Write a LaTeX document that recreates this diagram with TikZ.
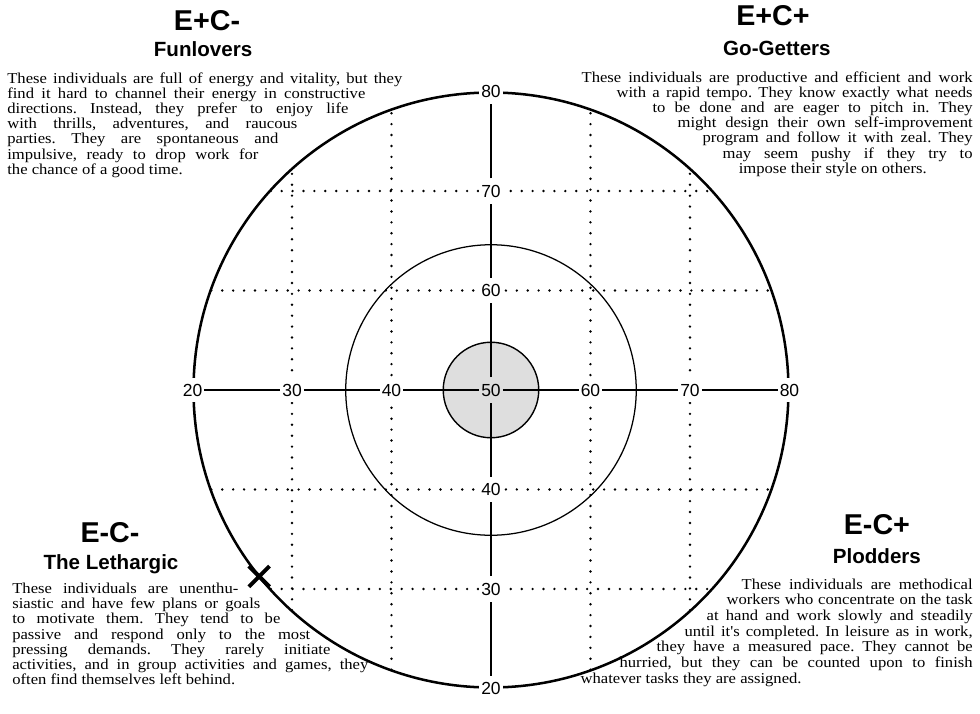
\documentclass[tikz,border=0pt]{standalone}
\usepackage{fontspec}
\setmainfont{Liberation Serif}
\setsansfont{Liberation Sans}
\newfontfamily\bodyfont[FakeStretch=1.1]{Liberation Serif}
\usetikzlibrary{shapes.misc}
\definecolor{Stipple}{gray}{0.87}
\newlength\pxw
\setlength\pxw{0.025126cm}
\newcommand\jline[2]{\makebox[#1\pxw][s]{#2}}
\frenchspacing

\begin{document}
\begin{tikzpicture}[x=2.5cm,y=2.5cm,
  rim/.style={line width=1.8pt},ring/.style={line width=0.9pt},
  dots/.style={line width=1.9pt,dash pattern=on 0pt off 7.8pt,line cap=round},
  axis/.style={line width=1.4pt},
  num/.style={fill=white,inner xsep=1.3pt,inner ysep=4.5pt,font=\sffamily\fontsize{12.5}{13}\selectfont},
  code/.style={anchor=base,font=\sffamily\bfseries\fontsize{20.5}{24}\selectfont},
  kind/.style={anchor=base,font=\sffamily\bfseries\fontsize{14.7}{17}\selectfont},
  body/.style={inner sep=0pt,font=\bodyfont\fontsize{10.8}{10.8}\selectfont}]
\useasboundingbox (-4.935,-3.256) rectangle (4.915,3.92);
% target rings
\fill[Stipple] (0,0) circle (0.48);
\draw[line width=1pt] (0,0) circle (0.48);
\draw[ring] (0,0) circle (1.46);
\draw[rim] (0,0) circle (2.99);
% dotted grid
\foreach \k in {-2,-1,1,2}{
  \draw[dots] (\k,{-sqrt(8.9-\k*\k)}) -- (\k,{sqrt(8.9-\k*\k)});
  \draw[dots] ({-sqrt(8.9-\k*\k)},\k) -- ({sqrt(8.9-\k*\k)},\k);}
% scale values
\node[num,fill=Stipple] (c) at (0,0) {50};
\foreach \v in {20,30,40,60,70,80}{
  \node[num] (h\v) at ({(\v-50)/10},0) {\v};
  \node[num] (v\v) at (0,{(\v-50)/10}) {\v};}
\foreach \p/\q in {h20/h30,h30/h40,h40/c,c/h60,h60/h70,h70/h80,v20/v30,v30/v40,v40/c,c/v60,v60/v70,v70/v80}
  \draw[axis] (\p)--(\q);
\node[cross out,draw,line width=2.8pt,minimum size=12pt,inner sep=0pt] (cross) at (218.8:2.99) {};
% E+C-
\node[code] (tlc) at (-2.854,3.618) {E+C-};
\node[kind] (tlk) at (-2.894,3.347) {Funlovers};
\node[body,anchor=north west,align=left] (tlb) at (-4.864,3.19) {%
  \jline{395}{These individuals are full of energy and vitality, but they}\\
  \jline{358}{find it hard to channel their energy in constructive}\\
  \jline{341}{directions. Instead, they prefer to enjoy life}\\
  \jline{290}{with thrills, adventures, and raucous}\\
  \jline{271}{parties. They are spontaneous and}\\
  \jline{251}{impulsive, ready to drop work for}\\
  the chance of a good time.};
% E+C+
\node[code] (trc) at (2.834,3.668) {E+C+};
\node[kind] (trk) at (2.874,3.367) {Go-Getters};
\node[body,anchor=north east,align=right] (trb) at (4.844,3.20) {%
  \jline{391}{These individuals are productive and efficient and work}\\
  \jline{356}{with a rapid tempo. They know exactly what needs}\\
  \jline{320}{to be done and are eager to pitch in. They}\\
  \jline{295}{might design their own self-improvement}\\
  \jline{270}{program and follow it with zeal. They}\\
  \jline{250}{may seem pushy if they try to}\\
  impose their style on others.\hspace*{46\pxw}};
% E-C-
\node[code] (blc) at (-3.829,-1.528) {E-C-};
\node[kind] (blk) at (-3.819,-1.809) {The Lethargic};
\node[body,anchor=north west,align=left] (blb) at (-4.814,-1.94) {%
  \jline{226}{These individuals are unenthu-}\\
  \jline{248}{siastic and have few plans or goals}\\
  \jline{268}{to motivate them. They tend to be}\\
  \jline{298}{passive and respond only to the most}\\
  \jline{318}{pressing demands. They rarely initiate}\\
  \jline{356}{activities, and in group activities and games, they}\\
  often find themselves left behind.};
% E-C+
\node[code] (brc) at (3.879,-1.457) {E-C+};
\node[kind] (brk) at (3.879,-1.739) {Plodders};
\node[body,anchor=north east,align=right,font=\bodyfont\fontsize{10.8}{11.2}\selectfont] (brb) at (4.844,-1.894) {%
  \jline{231}{These individuals are methodical}\\
  \jline{246}{workers who concentrate on the task}\\
  \jline{266}{at hand and work slowly and steadily}\\
  \jline{288}{until it's completed. In leisure as in work,}\\
  \jline{316}{they have a measured pace. They cannot be}\\
  \jline{353}{hurried, but they can be counted upon to finish}\\
  whatever tasks they are assigned.\hspace*{171\pxw}};
\end{tikzpicture}
\end{document}
